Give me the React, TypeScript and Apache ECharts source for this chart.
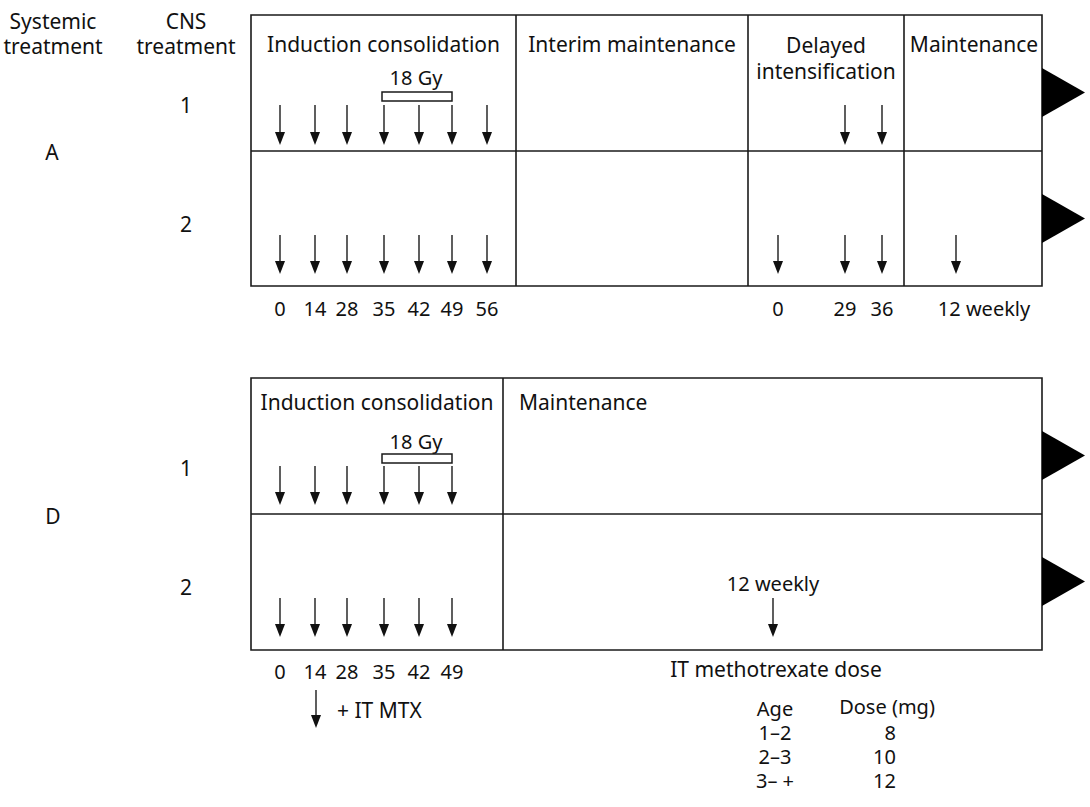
import React, { useEffect, useRef } from "react";
import * as echarts from "echarts";

// ---- content (data) ----
const headerLeft = ["Systemic\ntreatment", "CNS\ntreatment"];
const panelNames = ["A", "D"];
const rowNames = ["1", "2"];
const phasesA = ["Induction consolidation", "Interim maintenance", "Delayed\nintensification", "Maintenance"];
const phasesD = ["Induction consolidation", "Maintenance"];
const inductionDaysA = ["0", "14", "28", "35", "42", "49", "56"];
const delayedDaysA = ["0", "29", "36"];
const maintenanceLabel = "12 weekly";
const inductionDaysD = ["0", "14", "28", "35", "42", "49"];
const radiationLabel = "18 Gy";
const itmtxLegend = "+ IT MTX";
const doseTitle = "IT methotrexate dose";
const doseHeader = ["Age", "Dose (mg)"];
const doseAges = ["1–2", "2–3", "3– +"];
const doseMg = [8, 10, 12];
// which delayed-intensification days get IT therapy, per CNS row (A)
const delayedArrowsA = [["29", "36"], ["0", "29", "36"]];

// ---- layout ----
const FONT = '"Noto Sans", "Liberation Sans", Arial, sans-serif';
const BOX_L = 251, BOX_R = 1042;
const A_TOP = 15, A_MID = 151, A_BOT = 286;
const D_TOP = 378, D_MID = 514, D_BOT = 650;
const A_DIV = [516, 748, 904];
const D_DIV = [503];
const inductionX = [280, 315, 347, 384, 419, 452, 487];
const delayedX = [778, 845, 882];
const maintAX = 956;
const maintDX = 773;
const TABLE_ROW = 24;

function txt(x: number, y: number, s: string, size = 21, align = "center", lh?: number) {
  return {
    type: "text",
    x,
    y,
    style: {
      text: s,
      fill: "#111",
      fontSize: size,
      fontFamily: FONT,
      align,
      verticalAlign: "middle",
      textAlign: align,
      textVerticalAlign: "middle",
      lineHeight: lh || size * 1.2,
    },
  };
}
function ln(x1: number, y1: number, x2: number, y2: number, w = 1.6) {
  return { type: "line", shape: { x1, y1, x2, y2 }, style: { stroke: "#1a1a1a", lineWidth: w } };
}
function arrow(x: number, y0: number, y1: number) {
  return [
    ln(x, y0, x, y1 - 8, 1.4),
    {
      type: "polygon",
      shape: { points: [[x - 5, y1 - 13], [x + 5, y1 - 13], [x, y1]] },
      style: { fill: "#111" },
    },
  ];
}
function tri(yTop: number, yBot: number) {
  return {
    type: "polygon",
    shape: { points: [[BOX_R, yTop], [BOX_R + 43, (yTop + yBot) / 2], [BOX_R, yBot]] },
    style: { fill: "#000" },
  };
}

function buildGraphics() {
  const g: any[] = [];
  // left headers
  g.push(txt(53, 33, headerLeft[0], 21, "center", 25));
  g.push(txt(186, 33, headerLeft[1], 21, "center", 25));
  // panel labels
  g.push(txt(52, 152, panelNames[0]));
  g.push(txt(53, 516, panelNames[1]));
  g.push(txt(186, 105, rowNames[0]));
  g.push(txt(186, 224, rowNames[1]));
  g.push(txt(186, 468, rowNames[0]));
  g.push(txt(186, 587, rowNames[1]));

  // ---- Panel A box ----
  g.push({ type: "rect", shape: { x: BOX_L, y: A_TOP, width: BOX_R - BOX_L, height: A_BOT - A_TOP }, style: { fill: "none", stroke: "#1a1a1a", lineWidth: 1.6 } });
  g.push(ln(BOX_L, A_MID, BOX_R, A_MID));
  A_DIV.forEach((x) => g.push(ln(x, A_TOP, x, A_BOT)));
  g.push(txt((BOX_L + A_DIV[0]) / 2, 44, phasesA[0]));
  g.push(txt((A_DIV[0] + A_DIV[1]) / 2, 44, phasesA[1]));
  g.push(txt((A_DIV[1] + A_DIV[2]) / 2, 58, phasesA[2], 21, "center", 26));
  g.push(txt((A_DIV[2] + BOX_R) / 2 + 1, 44, phasesA[3]));
  // radiation
  g.push(txt(416, 77, radiationLabel, 20));
  g.push({ type: "rect", shape: { x: 382, y: 92, width: 70, height: 9 }, style: { fill: "#fff", stroke: "#1a1a1a", lineWidth: 1.5 } });
  // arrows row 1 / row 2
  inductionDaysA.forEach((_, i) => {
    g.push(...arrow(inductionX[i], 105, 145));
    g.push(...arrow(inductionX[i], 235, 274));
  });
  delayedArrowsA[0].forEach((d) => {
    const x = delayedX[delayedDaysA.indexOf(d)];
    g.push(...arrow(x, 105, 145));
  });
  delayedArrowsA[1].forEach((d) => {
    const x = delayedX[delayedDaysA.indexOf(d)];
    g.push(...arrow(x, 235, 274));
  });
  g.push(...arrow(maintAX, 235, 274));
  g.push(tri(68, 117));
  g.push(tri(194, 243));
  // day labels A
  inductionDaysA.forEach((d, i) => g.push(txt(inductionX[i], 308, d, 20)));
  delayedDaysA.forEach((d, i) => g.push(txt(delayedX[i], 308, d, 20)));
  g.push(txt(984, 308, maintenanceLabel, 20));

  // ---- Panel D box ----
  g.push({ type: "rect", shape: { x: BOX_L, y: D_TOP, width: BOX_R - BOX_L, height: D_BOT - D_TOP }, style: { fill: "none", stroke: "#1a1a1a", lineWidth: 1.6 } });
  g.push(ln(BOX_L, D_MID, BOX_R, D_MID));
  D_DIV.forEach((x) => g.push(ln(x, D_TOP, x, D_BOT)));
  g.push(txt((BOX_L + D_DIV[0]) / 2, 402, phasesD[0]));
  g.push(txt(519, 402, phasesD[1], 21, "left"));
  g.push(txt(416, 441, radiationLabel, 20));
  g.push({ type: "rect", shape: { x: 382, y: 454, width: 70, height: 9 }, style: { fill: "#fff", stroke: "#1a1a1a", lineWidth: 1.5 } });
  inductionDaysD.forEach((_, i) => {
    g.push(...arrow(inductionX[i], 466, 505));
    g.push(...arrow(inductionX[i], 598, 637));
  });
  g.push(txt(maintDX, 583, maintenanceLabel, 20));
  g.push(...arrow(maintDX, 598, 637));
  g.push(tri(431, 480));
  g.push(tri(557, 606));
  inductionDaysD.forEach((d, i) => g.push(txt(inductionX[i], 671, d, 20)));

  // legend for arrow
  g.push(...arrow(316, 690, 728));
  g.push(txt(337, 710, itmtxLegend, 21, "left"));

  // dose table
  g.push(txt(776, 669, doseTitle));
  const ageCol = [doseHeader[0], ...doseAges].join("\n");
  const ageMid = 708 + (TABLE_ROW * doseAges.length) / 2;
  g.push(txt(775, ageMid, ageCol, 20, "center", TABLE_ROW));
  g.push(txt(887, 706, doseHeader[1], 20, "center", 20));
  const doseCol = doseMg.map(String).join("\n");
  const doseMid = 708 + TABLE_ROW + (TABLE_ROW * (doseMg.length - 1)) / 2;
  g.push(txt(896, doseMid, doseCol, 20, "right", TABLE_ROW));
  return g;
}

export default function App() {
  const ref = useRef<HTMLDivElement>(null);
  useEffect(() => {
    if (!ref.current) return;
    const chart = echarts.init(ref.current, null, { renderer: "svg" });
    chart.setOption({
      animation: false,
      backgroundColor: "#fff",
      graphic: { elements: buildGraphics() },
    });
    return () => chart.dispose();
  }, []);
  return (
    <div
      ref={ref}
      style={{ position: "fixed", left: 0, top: 0, width: 1090, height: 807, background: "#fff" }}
    />
  );
}
